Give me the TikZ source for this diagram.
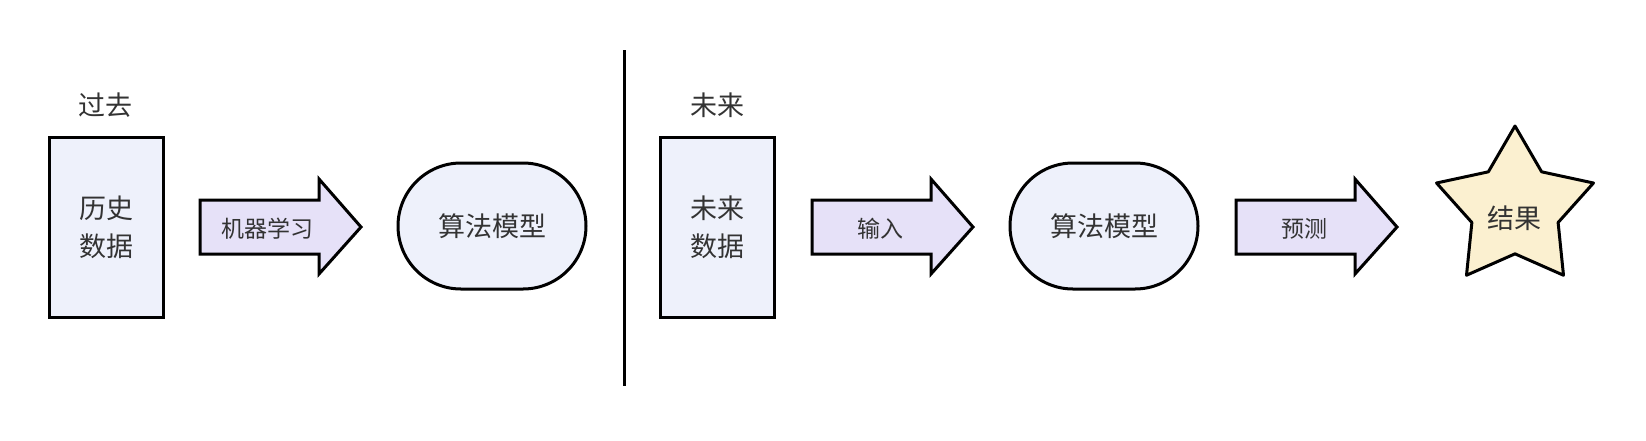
\documentclass[tikz,border=0pt]{standalone}
\usepackage{fontspec}
\setmainfont{Noto Sans CJK SC}
\usetikzlibrary{shapes.geometric}

\definecolor{boxfill}{HTML}{EEF1FB}
\definecolor{arrowfill}{HTML}{E6E1F8}
\definecolor{starfill}{HTML}{FBF0D0}
\definecolor{txt}{HTML}{333333}

\tikzset{
  bigtext/.style={font=\fontsize{13.5pt}{19pt}\selectfont, text=txt},
  smalltext/.style={font=\fontsize{11.5pt}{14pt}\selectfont, text=txt},
  databox/.style={draw, line width=1.5pt, fill=boxfill, minimum width=57pt,
    minimum height=90pt, align=center, bigtext},
  modelbox/.style={draw, line width=1.5pt, fill=boxfill, minimum width=94pt,
    minimum height=63pt, rounded corners=31.5pt, bigtext},
  blockarrow/.style={draw, line width=1.5pt, fill=arrowfill, line join=miter},
  resultstar/.style={draw, line width=1.5pt, fill=starfill, star, star points=5,
    star point ratio=1.82, minimum size=82.5pt, inner sep=0pt, line join=round}
}

\begin{document}
\begin{tikzpicture}[x=0.5pt, y=-0.5pt]
  \useasboundingbox (0,0) rectangle (1646,440);
  % past: learning
  \node[bigtext] (past) at (105,105) {过去};
  \node[databox] (hist) at (106,227) {历史\\数据};
  \begin{scope}[shift={(200,0)}]
    \draw[blockarrow] (0,200) -- (119,200) -- (119,179) -- (161,227)
      -- (119,274) -- (119,254) -- (0,254) -- cycle;
    \node[smalltext] (learn) at (67,229) {机器学习};
  \end{scope}
  \node[modelbox] (model1) at (492,226) {算法模型};
  % divider
  \coordinate (divtop) at (624,50);
  \coordinate (divbot) at (624,386);
  \draw[line width=1.5pt] (divtop) -- (divbot);
  % future: prediction
  \node[bigtext] (future) at (717,105) {未来};
  \node[databox] (fut) at (717,227) {未来\\数据};
  \begin{scope}[shift={(812,0)}]
    \draw[blockarrow] (0,200) -- (119,200) -- (119,179) -- (161,227)
      -- (119,274) -- (119,254) -- (0,254) -- cycle;
    \node[smalltext] (input) at (68,229) {输入};
  \end{scope}
  \node[modelbox] (model2) at (1104,226) {算法模型};
  \begin{scope}[shift={(1236,0)}]
    \draw[blockarrow] (0,200) -- (119,200) -- (119,179) -- (161,227)
      -- (119,274) -- (119,254) -- (0,254) -- cycle;
    \node[smalltext] (predict) at (68,229) {预测};
  \end{scope}
  \node[resultstar] (res) at (1515,208.5) {};
  \node[bigtext] (reslabel) at (1514,218) {结果};
\end{tikzpicture}
\end{document}
